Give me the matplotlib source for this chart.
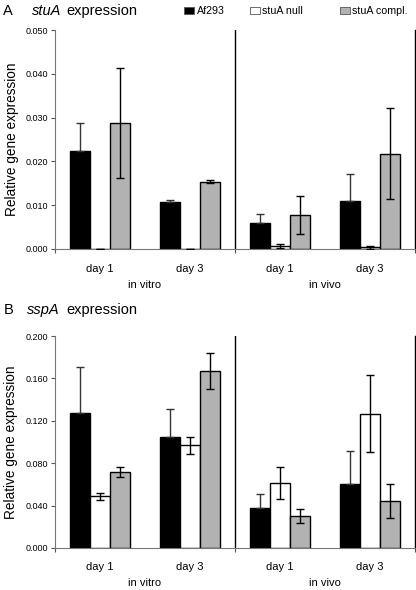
import numpy as np
import matplotlib
matplotlib.use("Agg")
import matplotlib.pyplot as plt
from matplotlib.patches import Rectangle

# groups: in vitro day1, day3, in vivo day1, day3
days = ["day 1", "day 3", "day 1", "day 3"]
strains = ["Af293", "stuA null", "stuA compl."]
colors = ["black", "white", "#b2b2b2"]

stua_af = [0.0223, 0.0108, 0.0059, 0.0110]
stua_af_err = [0.0064, 0.0003, 0.0020, 0.0061]
stua_null = [0.0001, 0.0001, 0.0007, 0.0004]
stua_null_err = [0.0, 0.0, 0.0004, 0.0003]
stua_comp = [0.0287, 0.0154, 0.0078, 0.0218]
stua_comp_err = [0.0126, 0.0004, 0.0043, 0.0104]

sspa_af = [0.1278, 0.1049, 0.0374, 0.0600]
sspa_af_err = [0.0433, 0.0261, 0.0132, 0.0311]
sspa_null = [0.0487, 0.0967, 0.0612, 0.1268]
sspa_null_err = [0.0031, 0.0082, 0.0148, 0.0367]
sspa_comp = [0.0716, 0.1670, 0.0301, 0.0443]
sspa_comp_err = [0.0047, 0.0167, 0.0063, 0.0157]

stua_ticks = [0.000, 0.010, 0.020, 0.030, 0.040, 0.050]
sspa_ticks = [0.000, 0.040, 0.080, 0.120, 0.160, 0.200]

fig = plt.figure(figsize=(4.16, 5.90), dpi=100)
plt.rcParams['font.family'] = ['Liberation Sans', 'DejaVu Sans']

x = np.arange(4)
w = 0.222


def panel(ax, series, errs, ticks):
    for i, (vals, err) in enumerate(zip(series, errs)):
        pos = x + (i - 1) * w
        ax.bar(pos, vals, w, color=colors[i], edgecolor="black", linewidth=1.0, zorder=2)
        if i == 0:
            # black bars: only the upper half of the error bar is visible
            yerr = [np.zeros(len(err)), err]
            ecol = "#333333"
        else:
            yerr = err
            ecol = "black"
        ax.errorbar(pos, vals, yerr=yerr, fmt="none", ecolor=ecol, elinewidth=1.0,
                    capsize=3, capthick=1.0, zorder=3)
    ax.set_xlim(-0.5, 3.5)
    ax.set_ylim(0, ticks[-1])
    ax.set_yticks(ticks)
    ax.set_yticklabels(["%.3f" % t for t in ticks], fontsize=6.5)
    ax.set_xticks([-0.5, 1.5, 3.5])
    ax.set_xticklabels([])
    ax.tick_params(axis="x", length=3, width=0.8, color="#555555")
    ax.tick_params(axis="y", length=3, width=0.8, color="#555555", pad=2)
    ax.spines["top"].set_visible(False)
    ax.spines["left"].set_color("#777777")
    ax.spines["bottom"].set_color("#777777")
    ax.spines["right"].set_color("black")
    ax.spines["right"].set_linewidth(1.0)
    ax.axvline(1.5, color="black", lw=1.0, zorder=1)
    for xi, d in zip(x, days):
        ax.text(xi, -0.09, d, transform=ax.get_xaxis_transform(), ha="center", va="center", fontsize=8)
    ax.text(0.5, -0.165, "in vitro", transform=ax.get_xaxis_transform(), ha="center", va="center", fontsize=8)
    ax.text(2.5, -0.165, "in vivo", transform=ax.get_xaxis_transform(), ha="center", va="center", fontsize=8)
    ax.set_ylabel("Relative gene expression", fontsize=9.8, labelpad=5)


ax1 = fig.add_axes([0.1322, 0.578, 0.8654, 0.371])
panel(ax1, [stua_af, stua_null, stua_comp], [stua_af_err, stua_null_err, stua_comp_err], stua_ticks)
ax2 = fig.add_axes([0.1322, 0.0712, 0.8654, 0.3593])
panel(ax2, [sspa_af, sspa_null, sspa_comp], [sspa_af_err, sspa_null_err, sspa_comp_err], sspa_ticks)

# titles
fig.text(0.008, 0.982, "A", fontsize=10.5, va="center")
fig.text(0.077, 0.982, "stuA", fontsize=10.5, va="center", style="italic")
fig.text(0.159, 0.982, "expression", fontsize=10.5, va="center")
fig.text(0.008, 0.4746, "B", fontsize=10.5, va="center")
fig.text(0.065, 0.4746, "sspA", fontsize=10.5, va="center", style="italic")
fig.text(0.159, 0.4746, "expression", fontsize=10.5, va="center")

# legend
leg_x = [0.443, 0.600, 0.817]
for lx, c, s in zip(leg_x, colors, strains):
    fig.patches.append(Rectangle((lx, 0.976), 0.024, 0.0125, transform=fig.transFigure,
                                 facecolor=c, edgecolor="#555555", linewidth=0.6))
    fig.text(lx + 0.030, 0.982, s, fontsize=7.7, va="center")

fig.savefig("out.png", dpi=100)
